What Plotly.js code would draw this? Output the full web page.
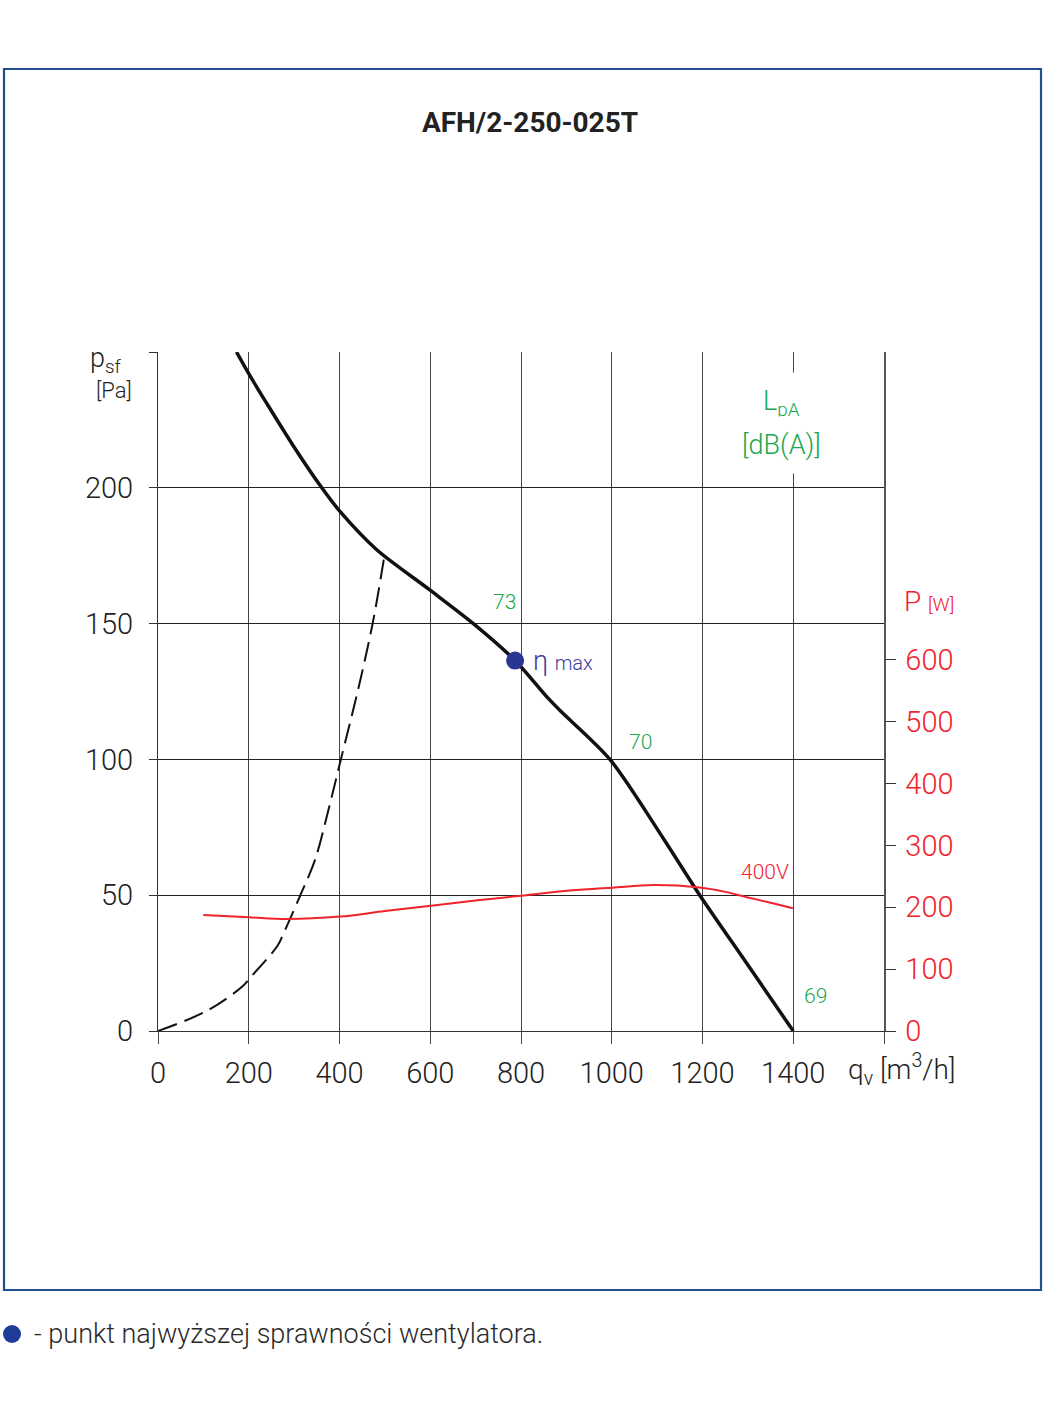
<!DOCTYPE html>
<html>
<head>
<meta charset="utf-8">
<script src="https://cdn.plot.ly/plotly-3.0.1.min.js"></script>
<style>
html,body{margin:0;padding:0;background:#fff;}
#chart{width:1045px;height:1415px;}
</style>
</head>
<body>
<div id="chart"></div>
<script>
// Fan curve (static pressure psf [Pa] vs airflow qv [m3/h])
const fanQ  = [173, 200, 240, 298, 361, 401, 482, 599, 695, 787, 857, 886, 996, 1114, 1194, 1300, 1400];
const fanP  = [250, 242, 231, 215.5, 200, 191.3, 177.2, 162.4, 150, 136.4, 123, 118, 100, 70.8, 50, 24.3, 0];
// System (dashed) curve
const sysQ  = [0, 111, 187, 204, 263, 275, 313, 346, 375, 403, 440, 473, 499];
const sysP  = [0, 7.7, 16.6, 19.8, 31.3, 35.3, 49.7, 63, 81, 100, 125, 150, 175];
// Power curve P [W] (400V)
const powQ  = [100, 200, 284, 401, 500, 602, 700, 801, 908, 1001, 1092, 1194, 1250, 1300, 1350, 1399];
const powW  = [187.6, 183.9, 181, 185, 194, 202.7, 211, 218.8, 227, 231.8, 236, 232, 225, 216, 207.5, 198.5];
// Max efficiency point
const etaQ = [787];
const etaP = [136.4];
// Sound level labels LpA [dB(A)]
const lpaQ = [763, 1064, 1450];
const lpaP = [158, 106.5, 13];
const lpaText = ['73', '70', '69'];
// Axis ticks
const xTicks = [0, 200, 400, 600, 800, 1000, 1200, 1400, 1600];
const xTickText = ['0', '200', '400', '600', '800', '1000', '1200', '1400', ''];
const yTicks = [0, 50, 100, 150, 200, 250];
const yTickText = ['0', '50', '100', '150', '200', ''];
const y2Ticks = [0, 100, 200, 300, 400, 500, 600];
const y2TickText = ['0', '100', '200', '300', '400', '500', '600'];

const FONT = 'Roboto, "DejaVu Sans", sans-serif';
const GREEN = '#1aa650';
const RED = '#f0222b';
const BLUE = '#2b3592';

const traces = [
  {x: sysQ, y: sysP, mode: 'lines', line: {color: '#111', width: 2, dash: '20px,8px', shape: 'spline', smoothing: 1}, hoverinfo: 'skip'},
  {x: powQ, y: powW, yaxis: 'y2', mode: 'lines', line: {color: RED, width: 2, shape: 'spline', smoothing: 1}, hoverinfo: 'skip'},
  {x: fanQ, y: fanP, mode: 'lines', line: {color: '#111', width: 3.5, shape: 'spline', smoothing: 0.8}, hoverinfo: 'skip'},
  {x: etaQ, y: etaP, mode: 'markers', marker: {color: BLUE, size: 18}, hoverinfo: 'skip'}
];

const plotL = 158, plotR = 884, plotT = 352, plotB = 1031;
const pw = plotR - plotL, ph = plotB - plotT;
const px = v => (v - plotL) / pw;
const py = v => (plotB - v) / ph;

const annotations = [];
for (let i = 0; i < lpaText.length; i++) {
  annotations.push({x: lpaQ[i], y: lpaP[i], xref: 'x', yref: 'y', text: lpaText[i], showarrow: false,
    font: {family: FONT, size: 21, color: GREEN, weight: 300}});
}
annotations.push(
  {x: 1338, y: 58.5, xref: 'x', yref: 'y', text: '400V', showarrow: false,
   font: {family: FONT, size: 21, color: RED, weight: 300}},
  {x: 823, y: 137, xref: 'x', yref: 'y', xanchor: 'left', text: '\u03b7 <span style="font-size:20px">max</span>', showarrow: false,
   yshift: -2, font: {family: FONT, size: 27, color: '#3a3f9e', weight: 300}},
  {x: 1375, y: 231.2, xref: 'x', yref: 'y', text: 'L<sub>pA</sub>', showarrow: false,
   bgcolor: '#ffffff', borderpad: 12, font: {family: FONT, size: 27, color: GREEN, weight: 300}},
  {x: 1375, y: 215.8, xref: 'x', yref: 'y', text: '[dB(A)]', showarrow: false,
   bgcolor: '#ffffff', borderpad: 12, font: {family: FONT, size: 27, color: GREEN, weight: 300}},
  {x: 1600, y: 158, xref: 'x', yref: 'y', xanchor: 'left', xshift: 18, text: 'P <span style="font-size:19px">[W]</span>', showarrow: false,
   font: {family: FONT, size: 28, color: RED, weight: 300}},
  {x: 0, y: 250, xref: 'x', yref: 'y', xanchor: 'right', xshift: -34, yanchor: 'middle', yshift: -8,
   text: 'p<sub>sf</sub>', showarrow: false, font: {family: FONT, size: 27, color: '#222', weight: 300}},
  {x: 0, y: 250, xref: 'x', yref: 'y', xanchor: 'right', xshift: -24, yanchor: 'middle', yshift: -38,
   text: '[Pa]', showarrow: false, font: {family: FONT, size: 22, color: '#222', weight: 300}},
  {x: 1600, y: 0, xref: 'x', yref: 'y', xanchor: 'left', xshift: -38, yanchor: 'middle', yshift: -38,
   text: 'q<sub>v</sub> [m<sup>3</sup>/h]', showarrow: false,
   font: {family: FONT, size: 28, color: '#222', weight: 300}},
  {x: px(32), y: py(1334), xref: 'paper', yref: 'paper', xanchor: 'left', yanchor: 'middle',
   text: '- punkt najwyższej sprawności wentylatora.', showarrow: false,
   font: {family: FONT, size: 27, color: '#2a2a2a', weight: 300}}
);

const shapes = [
  {type: 'rect', xref: 'paper', yref: 'paper', x0: px(4), x1: px(1041), y0: py(69), y1: py(1290),
   line: {color: '#1f4f8c', width: 2.2}, fillcolor: 'rgba(0,0,0,0)', layer: 'below'},
  {type: 'circle', xref: 'paper', yref: 'paper', x0: px(3), x1: px(21), y0: py(1325), y1: py(1343),
   line: {width: 0}, fillcolor: '#1f3c99'}
];

const layout = {
  width: 1045, height: 1415,
  margin: {l: plotL, r: 1045 - plotR, t: plotT, b: 1415 - plotB},
  paper_bgcolor: '#fff', plot_bgcolor: '#fff',
  showlegend: false,
  title: {text: '<b>AFH/2-250-025T</b>', x: 530 / 1045, xanchor: 'center', y: 1 - 122 / 1415, yanchor: 'middle',
          font: {family: FONT, size: 28, color: '#222'}},
  xaxis: {range: [0, 1600], tickvals: xTicks, ticktext: xTickText, showgrid: true, gridcolor: '#444', gridwidth: 1,
          zeroline: false, showline: true, linecolor: '#333', linewidth: 1, mirror: false,
          ticks: 'outside', ticklen: 12, tickcolor: '#444', tickwidth: 1, ticklabelstandoff: 4,
          tickfont: {family: FONT, size: 29, color: '#222', weight: 300}, fixedrange: true},
  yaxis: {range: [0, 250], tickvals: yTicks, ticktext: yTickText, showgrid: true, gridcolor: '#222', gridwidth: 1,
          zeroline: false, showline: true, linecolor: '#333', linewidth: 1,
          ticks: 'outside', ticklen: 8, tickcolor: '#333', tickwidth: 1, ticklabelstandoff: 10,
          tickfont: {family: FONT, size: 29, color: '#222', weight: 300}, fixedrange: true},
  yaxis2: {range: [0, 1098], overlaying: 'y', side: 'right', tickvals: y2Ticks, ticktext: y2TickText,
           showgrid: false, zeroline: false, showline: true, linecolor: '#555', linewidth: 1.5,
           ticks: 'outside', ticklen: 10, tickcolor: '#333', tickwidth: 1, ticklabelstandoff: 4,
           tickfont: {family: FONT, size: 29, color: RED, weight: 300}, fixedrange: true},
  annotations: annotations,
  shapes: shapes
};

Plotly.newPlot('chart', traces, layout, {displayModeBar: false, staticPlot: true});
</script>
</body>
</html>
